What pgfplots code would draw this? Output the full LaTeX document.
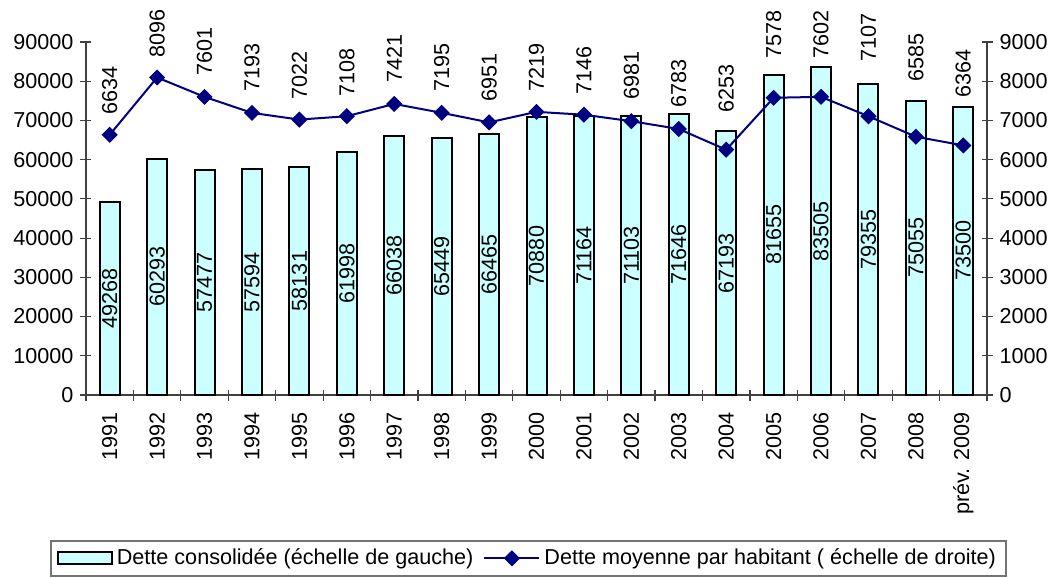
\documentclass[border=0pt]{standalone}
\usepackage{fontspec}
\setmainfont{Liberation Sans}
\usepackage{pgfplots}
\pgfplotsset{compat=1.18}
\usepackage{pgfplotstable}
\definecolor{barfill}{HTML}{CCFFFF}
\definecolor{navy}{HTML}{000080}
% x, consolidated debt, debt per inhabitant, label position (right scale)
\pgfplotstableread{
x dette hab lab
0 49268 6634 7139
1 60293 8096 8592
2 57477 7601 8133
3 57594 7193 7725
4 58131 7022 7521
5 61998 7108 7598
6 66038 7421 7955
7 65449 7195 7725
8 66465 6951 7470
9 70880 7219 7725
10 71164 7146 7649
11 71103 6981 7521
12 71646 6783 7317
13 67193 6253 7190
14 81655 7578 8567
15 83505 7602 8567
16 79355 7107 8490
17 75055 6585 7980
18 73500 6364 7572
}\data
\pgfplotsset{
  base/.style={
    scale only axis, width=450.5pt, height=176.5pt,
    xmin=-0.5, xmax=18.5,
    tick align=center, major tick length=5.5pt, minor tick length=5.5pt,
    axis line style={-, black!75, line width=0.6pt},
    tick style={black!75, line width=0.6pt},
    /pgf/number format/fixed,
    /pgf/number format/1000 sep={},
    /pgf/number format/precision=0,
    /pgf/number format/assume math mode=true,
    scaled y ticks=false,
  },
  barleg/.style={legend image code/.code={\draw[##1] (0pt,-3pt) rectangle (27pt,3pt);}},
  lineleg/.style={legend image code/.code={\draw[mark repeat=2,mark phase=2,##1] plot coordinates {(0pt,0pt) (13.75pt,0pt) (27.5pt,0pt)};}},
}
\begin{document}
\begin{tikzpicture}[font=\fontsize{10.8}{13}\selectfont]
\begin{axis}[base,
  ymin=0, ymax=90000, ytick={0,10000,...,90000},
  axis y line*=left, axis x line*=bottom,
  xtick={-0.5,0.5,...,18.5}, xticklabels={},
  extra x ticks={0,1,...,18},
  extra x tick labels={1991,1992,1993,1994,1995,1996,1997,1998,1999,2000,2001,2002,2003,2004,2005,2006,2007,2008,prév. 2009},
  extra x tick style={major tick length=0pt, tick label style={rotate=90, anchor=east, inner xsep=8.5pt}},
]
\coordinate (O) at (rel axis cs:0,0);
\addplot[ybar, bar width=10pt, fill=barfill, draw=black, line width=1pt] table[x=x,y=dette]{\data};
\addplot[draw=none, mark=none, forget plot, nodes near coords, point meta=explicit,
  every node near coord/.append style={text=black, rotate=90, anchor=center}]
  table[x=x, y expr=\thisrow{dette}/2, meta=dette]{\data};
\end{axis}
\begin{axis}[base,
  ymin=0, ymax=9000, ytick={0,1000,...,9000},
  axis y line*=right, axis x line=none,
  legend columns=2,
  legend style={at={(0.491,-0.411)}, anchor=north, draw=black!55, line width=0.8pt,
    inner xsep=3pt, inner ysep=2pt,
    /tikz/every even column/.append style={column sep=3pt}},
]
\addlegendimage{fill=barfill, draw=black, line width=1pt, barleg}
\addlegendentry{Dette consolidée (échelle de gauche)}
\addplot[color=navy, line width=1pt, mark=square*, mark size=2.6pt, mark options={rotate=45, line width=0.5pt},
  lineleg]
  table[x=x, y=hab]{\data};
\addlegendentry{Dette moyenne par habitant ( échelle de droite)\hspace{3.5pt}}
\addplot[draw=none, mark=none, forget plot, nodes near coords, point meta=explicit,
  every node near coord/.append style={text=black, rotate=90, anchor=west, inner xsep=0pt}]
  table[x=x, y=lab, meta=hab]{\data};
\end{axis}
\pgfresetboundingbox
\path[shift={(O)}] (-43pt,-91.5pt) rectangle (484.5pt,197.5pt);
\end{tikzpicture}
\end{document}
